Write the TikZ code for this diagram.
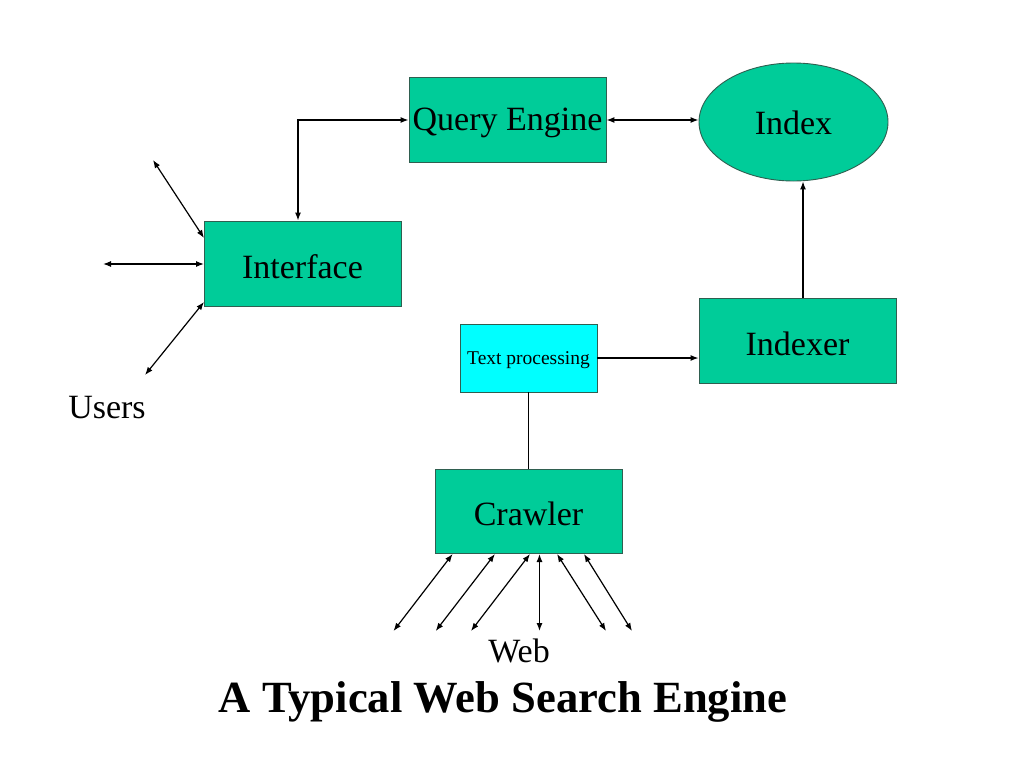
\documentclass[tikz,border=0pt]{standalone}
\usepackage{fontspec}
\setmainfont{Liberation Serif}
\usetikzlibrary{arrows.meta,shapes.geometric}
\definecolor{boxgreen}{HTML}{00CC99}
\definecolor{boxcyan}{HTML}{00FFFF}
\definecolor{edge}{HTML}{2F5F50}
\newcommand{\lowtext}[2][-3pt]{\raisebox{#1}[\height][\depth]{#2}}
\tikzset{
  gbox/.style={draw=edge,line width=0.9pt,fill=boxgreen,inner sep=0pt,font=\fontsize{34}{40}\selectfont},
  cbox/.style={draw=edge,line width=0.9pt,fill=boxcyan,inner sep=0pt,font=\fontsize{19.5}{23}\selectfont},
  conn/.style={line width=1.2pt,draw=black},
  tip/.tip={Latex[length=8pt,width=6pt]},
  dbl/.style={conn,tip-tip},
  sgl/.style={conn,-tip},
  lbl/.style={inner sep=0pt,font=\fontsize{34}{40}\selectfont},
}
\begin{document}
\begin{tikzpicture}[x=1pt,y=-1pt]
\useasboundingbox[fill=white] (0,0) rectangle (1024,768);
\node[gbox,minimum width=197pt,minimum height=85pt] (qe) at (507.5,119.5) {\lowtext{Query Engine}};
\node[gbox,ellipse,minimum width=189pt,minimum height=118pt] (idx) at (793.5,122) {\lowtext[-1pt]{Index}};
\node[gbox,minimum width=197pt,minimum height=85pt] (int) at (302.5,263.5) {\lowtext{Interface}};
\node[gbox,minimum width=197pt,minimum height=85pt] (ixr) at (797.5,340.5) {\lowtext{Indexer}};
\node[cbox,minimum width=137pt,minimum height=68pt] (tp) at (528.5,358) {\lowtext[-2pt]{Text processing}};
\node[gbox,minimum width=187pt,minimum height=84pt] (cr) at (528.5,511) {\lowtext{Crawler}};
\node[lbl] (users) at (107,408) {Users};
\node[lbl] (web) at (519,651) {Web};
\node[inner sep=0pt,font=\fontsize{44.6}{52}\selectfont\bfseries] (title) at (503,702) {A Typical Web Search Engine};

% connectors
\coordinate (c1) at (298,120);
\coordinate (c2) at (699,120);
\draw[dbl] (int.north -| c1) -- (c1) -- (c1 -| qe.west);
\draw[dbl] (c1 -| qe.east) -- (c2 -| idx.west);
\draw[sgl] (ixr.north -| 803,0) -- (idx.south -| 803,0);
\draw[sgl] (tp.east) -- (tp.east -| ixr.west);
\draw[conn] (tp.south) -- (cr.north);

% users
\coordinate (u1) at (153,160);
\coordinate (u2) at (103,264);
\coordinate (u3) at (145,375);
\coordinate (i1) at (204,238);
\coordinate (i2) at (204,264);
\coordinate (i3) at (204,302);
\draw[dbl] (u1) -- (i1);
\draw[dbl] (u2) -- (i2);
\draw[dbl] (u3) -- (i3);

% web
\foreach \n/\xa/\xb in {1/452.6/393.5,2/494.9/435.7,3/530/471,4/539.5/539.5,5/557/606,6/584/632}{
  \coordinate (ct\n) at (\xa,554);
  \coordinate (wb\n) at (\xb,631);
  \draw[dbl] (ct\n) -- (wb\n);
}
\end{tikzpicture}
\end{document}
